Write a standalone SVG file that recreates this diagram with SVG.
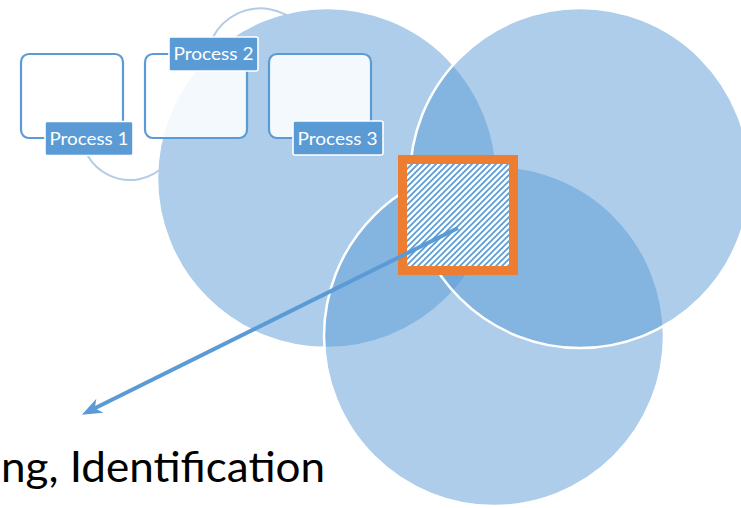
<svg xmlns="http://www.w3.org/2000/svg" width="741" height="508" viewBox="0 0 741 508">
<style>
.circ{fill:#5b9bd5;fill-opacity:0.5;stroke:#ffffff;stroke-width:2.5}
.box{fill:#ffffff;fill-opacity:0.87;stroke:#5b9bd5;stroke-width:2.2}
.lab{fill:#5b9bd5;stroke:#ffffff;stroke-width:1.6}
.lt{font-family:Lato,"Open Sans",sans-serif;font-size:18px;fill:#ffffff;text-anchor:middle}
.arc{fill:none;stroke:#b4cbe8;stroke-width:2}
.big{font-family:Lato,"Open Sans",sans-serif;font-size:42px;fill:#000000}
</style>
<defs>
<pattern id="hatch" patternUnits="userSpaceOnUse" width="6" height="6">
<rect width="6" height="6" fill="#ffffff"/>
<path d="M-1.5,1.5 L1.5,-1.5 M0,6 L6,0 M4.5,7.5 L7.5,4.5" stroke="#5b9bd5" stroke-width="1.7"/>
</pattern>
<marker id="ah" markerUnits="userSpaceOnUse" markerWidth="20" markerHeight="16" viewBox="0 0 18 14" refX="6" refY="7" orient="auto">
<path d="M0,0 L18,7 L0,14 L5,7 z" fill="#5b9bd5"/>
</marker>
</defs>
<g id="circle-left"><circle class="circ" cx="327" cy="178" r="170"/></g>
<g id="circle-bottom"><circle class="circ" cx="494" cy="336" r="170"/></g>
<g id="circle-right"><circle class="circ" cx="580" cy="178" r="170"/></g>
<g id="process-arcs">
<path class="arc" d="M87.3,155 A49,49 0 0 0 178.5,138"/>
<path class="arc" d="M213,37 A54,54 0 0 1 314,54"/>
</g>
<g id="process1">
<rect class="box" x="21" y="54" width="102" height="84" rx="8"/>
<rect class="lab" x="45" y="121.5" width="88" height="34" rx="2"/>
<text class="lt" x="89" y="144.5" textLength="79" lengthAdjust="spacingAndGlyphs">Process 1</text>
</g>
<g id="process2">
<rect class="box" x="145" y="54" width="102" height="84" rx="8"/>
<rect class="lab" x="169" y="37" width="89" height="34" rx="2"/>
<text class="lt" x="213.5" y="60" textLength="80" lengthAdjust="spacingAndGlyphs">Process 2</text>
</g>
<g id="process3">
<rect class="box" x="269" y="54" width="102" height="84" rx="8"/>
<rect class="lab" x="293" y="121" width="90" height="34" rx="2"/>
<text class="lt" x="337.5" y="145" textLength="80" lengthAdjust="spacingAndGlyphs">Process 3</text>
</g>
<g id="hatched-square">
<rect x="402.5" y="159.5" width="111" height="111" fill="url(#hatch)" stroke="#ed7d31" stroke-width="9"/>
</g>
<g id="connectors">
<line x1="458" y1="228" x2="93.8" y2="408.7" stroke="#5b9bd5" stroke-width="4" marker-end="url(#ah)"/>
</g>
<g id="label">
<text class="big" x="1" y="482" textLength="324" lengthAdjust="spacingAndGlyphs">ng, Identification</text>
</g>
</svg>
